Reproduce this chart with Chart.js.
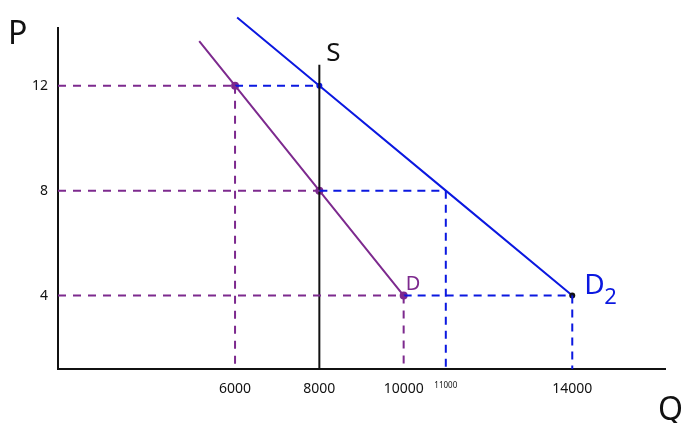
<!DOCTYPE html>
<html lang="en">
<head>
  <meta charset="UTF-8" />
  <title>Supply and demand</title>
  <script src="https://cdn.jsdelivr.net/npm/chart.js@4.4.1/dist/chart.umd.min.js"></script>
  <style>
    html,body{margin:0;padding:0;background:#fff}
    #wrap{width:682px;height:423px}
  </style>
</head>
<body>
<div id="wrap"><canvas id="chart" width="682" height="423"></canvas></div>
<script>
  // values
  const prices = [12, 8, 4];
  const demandQ = [6000, 8000, 10000];
  const demand2Q = [8000, 11000, 14000];
  const supplyQ = 8000;
  const supplyRange = [1.2, 12.8];
  const demandTop = {x: 5150, y: 13.7};
  const demand2Top = {x: 6050, y: 14.6};
  const qTicks = [6000, 8000, 10000, 11000, 14000];
  const pTicks = [4, 8, 12];
  const qMin = 1800, qMax = 16200, pMin = 1.2, pMax = 14.2;

  const PURPLE = '#7d2a8e';
  const BLUE = '#0b18e0';
  const FONT = "'Noto Sans', sans-serif";

  const dPts = [demandTop].concat(demandQ.map((q, i) => ({x: q, y: prices[i]})));
  const d2Pts = [demand2Top].concat(demand2Q.map((q, i) => ({x: q, y: prices[i]})));

  // purple guides: from the P axis to the first curve, and down from D
  const purpleGuides = [];
  prices.forEach((p, i) => {
    const reach = i === 1 ? supplyQ : demandQ[i];
    purpleGuides.push({x: qMin, y: p}, {x: reach, y: p}, {x: null, y: null});
  });
  [0, 2].forEach(i => purpleGuides.push({x: demandQ[i], y: prices[i]}, {x: demandQ[i], y: pMin}, {x: null, y: null}));

  // blue guides: continue across to D2, and down from D2
  const blueGuides = [];
  prices.forEach((p, i) => {
    const from = i === 1 ? supplyQ : demandQ[i];
    blueGuides.push({x: from, y: p}, {x: demand2Q[i], y: p}, {x: null, y: null});
  });
  [1, 2].forEach(i => blueGuides.push({x: demand2Q[i], y: prices[i]}, {x: demand2Q[i], y: pMin}, {x: null, y: null}));

  const labelPlugin = {
    id: 'curveLabels',
    afterDatasetsDraw(chart) {
      const {ctx, scales: {x, y}} = chart;
      ctx.save();
      ctx.textBaseline = 'alphabetic';
      ctx.font = `26px ${FONT}`;
      ctx.fillStyle = '#111';
      ctx.fillText('S', x.getPixelForValue(supplyQ) + 7, y.getPixelForValue(supplyRange[1]) - 4);
      ctx.fillStyle = PURPLE;
      ctx.font = `20px ${FONT}`;
      ctx.fillText('D', x.getPixelForValue(demandQ[2]) + 2, y.getPixelForValue(prices[2]) - 6);
      ctx.fillStyle = BLUE;
      ctx.font = `28px ${FONT}`;
      const dx = x.getPixelForValue(demand2Q[2]) + 12, dy = y.getPixelForValue(prices[2]);
      ctx.fillText('D', dx, dy - 2);
      ctx.font = `22px ${FONT}`;
      ctx.fillText('2', dx + 20, dy + 8);
      ctx.fillStyle = '#111';
      ctx.font = `32px ${FONT}`;
      ctx.fillText('P', 8, 44);
      ctx.fillText('Q', 658, 420);
      ctx.restore();
    }
  };

  new Chart(document.getElementById('chart'), {
    type: 'scatter',
    data: {
      datasets: [
        {label: 'purple guides', data: purpleGuides, showLine: true, borderColor: PURPLE, borderWidth: 2, borderDash: [8, 7], pointRadius: 0, spanGaps: false},
        {label: 'blue guides', data: blueGuides, showLine: true, borderColor: BLUE, borderWidth: 2, borderDash: [8, 6], pointRadius: 0, spanGaps: false},
        {label: 'S', data: [{x: supplyQ, y: supplyRange[0]}, {x: supplyQ, y: supplyRange[1]}], showLine: true, borderColor: '#111', borderWidth: 2, pointRadius: 0},
        {label: 'D', data: dPts, showLine: true, borderColor: PURPLE, backgroundColor: PURPLE, borderWidth: 2, pointRadius: [0, 3, 3, 3], clip: false},
        {label: 'D2', data: d2Pts, showLine: true, borderColor: BLUE, backgroundColor: [BLUE, BLUE, BLUE, '#111'], borderWidth: 2, pointRadius: [0, 3, 0, 3], pointBorderWidth: 0, clip: false}
      ]
    },
    options: {
      responsive: false,
      animation: false,
      layout: {padding: {top: 28, right: 17, left: 0, bottom: 0}},
      plugins: {legend: {display: false}, tooltip: {enabled: false}},
      scales: {
        x: {
          type: 'linear', min: qMin, max: qMax,
          afterBuildTicks: s => { s.ticks = qTicks.map(v => ({value: v})); },
          afterFit: s => { s.height = 54; },
          grid: {display: false, drawTicks: false},
          border: {color: '#111', width: 2},
          ticks: {
            color: '#111', padding: 12,
            font: c => ({family: FONT, size: c.tick && c.tick.value === 11000 ? 8 : 14}),
            callback: v => String(v)
          }
        },
        y: {
          type: 'linear', min: pMin, max: pMax,
          afterBuildTicks: s => { s.ticks = pTicks.map(v => ({value: v})); },
          afterFit: s => { s.width = 58; },
          grid: {display: false, drawTicks: false},
          border: {color: '#111', width: 2},
          ticks: {color: '#111', padding: 10, font: {family: FONT, size: 14}}
        }
      }
    },
    plugins: [labelPlugin]
  });
</script>
</body>
</html>
